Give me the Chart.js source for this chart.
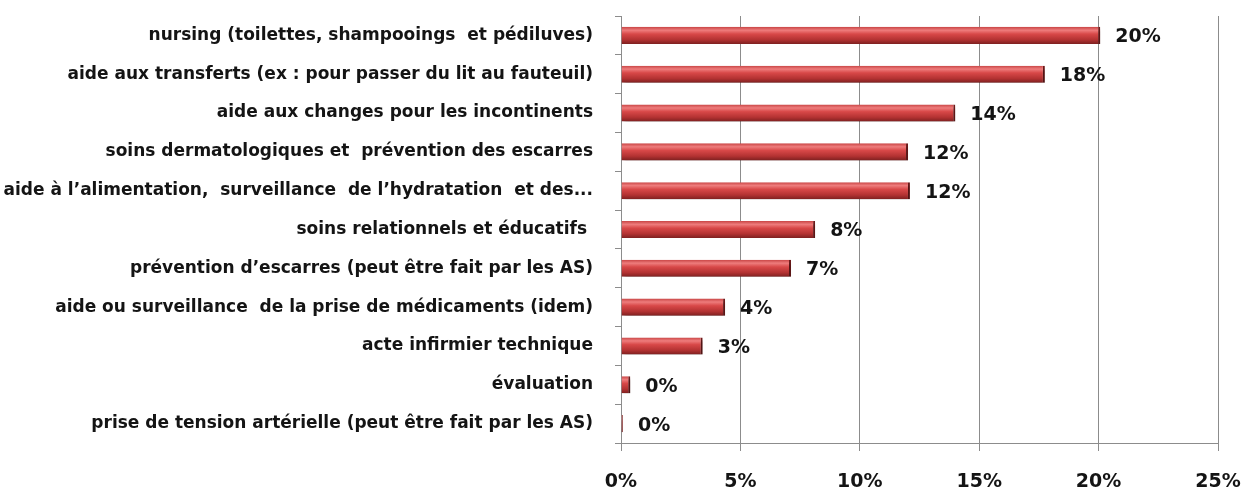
<!DOCTYPE html>
<html>
<head>
<meta charset="utf-8">
<script src="https://cdn.jsdelivr.net/npm/chart.js@4/dist/chart.umd.min.js"></script>
<style>
  html, body { margin: 0; padding: 0; background: #ffffff; }
  #wrap { width: 1243px; height: 496px; }
</style>
</head>
<body>
<div id="wrap"><canvas id="chart" width="1243" height="496"></canvas></div>
<script>
// Catégories (de haut en bas)
const categories = [
  'nursing (toilettes, shampooings  et pédiluves)',
  'aide aux transferts (ex : pour passer du lit au fauteuil)',
  'aide aux changes pour les incontinents',
  'soins dermatologiques et  prévention des escarres',
  'aide à l\u2019alimentation,  surveillance  de l\u2019hydratation  et des...',
  'soins relationnels et éducatifs ',
  'prévention d\u2019escarres (peut être fait par les AS)',
  'aide ou surveillance  de la prise de médicaments (idem)',
  'acte infirmier technique',
  'évaluation',
  'prise de tension artérielle (peut être fait par les AS)'
];

// Valeurs (%)
const values = [20.07, 17.75, 14.0, 12.02, 12.1, 8.13, 7.12, 4.36, 3.42, 0.39, 0.08];

// Graduations de l'axe X
const xTicks = [0, 5, 10, 15, 20, 25];

const textColor = '#141414';
const gridColor = '#8c8c8c';
const barPct = 0.44;

// Dégradé vertical pour l'effet "3D" des barres
function barGradient(context) {
  const chart = context.chart;
  const yScale = chart.scales.y;
  if (!yScale || context.dataIndex === undefined) return '#d04545';
  const cy = yScale.getPixelForValue(context.dataIndex);
  const half = (yScale.height / categories.length) * barPct / 2;
  if (!isFinite(cy) || !isFinite(half) || half <= 0) return '#d04545';
  const g = chart.ctx.createLinearGradient(0, cy - half, 0, cy + half);
  g.addColorStop(0, '#c84444');
  g.addColorStop(0.2, '#ee7c7c');
  g.addColorStop(0.42, '#d84848');
  g.addColorStop(0.75, '#b33232');
  g.addColorStop(1, '#7e2020');
  return g;
}

// Ombre portée sous les barres
const shadowPlugin = {
  id: 'barShadow',
  beforeDatasetsDraw(chart) {
    const ctx = chart.ctx;
    ctx.save();
    ctx.shadowColor = 'rgba(0,0,0,0.35)';
    ctx.shadowBlur = 3;
    ctx.shadowOffsetX = 2;
    ctx.shadowOffsetY = 3;
  },
  afterDatasetsDraw(chart) {
    chart.ctx.restore();
  }
};

// Étiquettes de valeurs au bout des barres
const valueLabels = {
  id: 'valueLabels',
  afterDatasetsDraw(chart) {
    const ctx = chart.ctx;
    const meta = chart.getDatasetMeta(0);
    ctx.save();
    ctx.font = 'bold 19px "DejaVu Sans"';
    ctx.fillStyle = textColor;
    ctx.textAlign = 'left';
    ctx.textBaseline = 'middle';
    meta.data.forEach((bar, i) => {
      ctx.fillText(Math.round(values[i]) + '%', bar.x + 15, bar.y + 2);
    });
    ctx.restore();
  }
};

const chart = new Chart(document.getElementById('chart'), {
  type: 'bar',
  data: {
    labels: categories,
    datasets: [{
      data: values,
      backgroundColor: barGradient,
      borderColor: '#6e1a1a',
      borderWidth: { right: 2, top: 0, bottom: 0, left: 0 },
      borderSkipped: false,
      barPercentage: barPct,
      categoryPercentage: 1
    }]
  },
  options: {
    indexAxis: 'y',
    responsive: false,
    animation: false,
    layout: { padding: { top: 16, right: 25, bottom: 0, left: 0 } },
    plugins: {
      legend: { display: false },
      tooltip: { enabled: false }
    },
    scales: {
      x: {
        min: 0,
        max: 25,
        afterBuildTicks(scale) {
          scale.ticks = xTicks.map(v => ({ value: v }));
        },
        afterFit(scale) {
          scale.height = 53;
          scale.paddingLeft = 0;
          scale.paddingRight = 0;
        },
        grid: { color: gridColor, lineWidth: 1, tickLength: 8, drawTicks: true },
        border: { display: true, color: gridColor },
        ticks: {
          color: textColor,
          font: { family: 'DejaVu Sans', size: 19, weight: 'bold' },
          padding: 20,
          callback: v => v + '%'
        }
      },
      y: {
        afterFit(scale) {
          scale.width = 621;
          scale.paddingTop = 0;
          scale.paddingBottom = 0;
        },
        grid: { display: true, drawOnChartArea: false, color: gridColor, tickLength: 6, offset: true },
        border: { display: true, color: gridColor },
        ticks: {
          color: textColor,
          font: { family: 'DejaVu Sans', size: 17, weight: 'bold' },
          padding: 22,
          autoSkip: false
        }
      }
    }
  },
  plugins: [shadowPlugin, valueLabels]
});
// second passage pour que les dégradés utilisent les échelles calculées
chart.update();
</script>
</body>
</html>
